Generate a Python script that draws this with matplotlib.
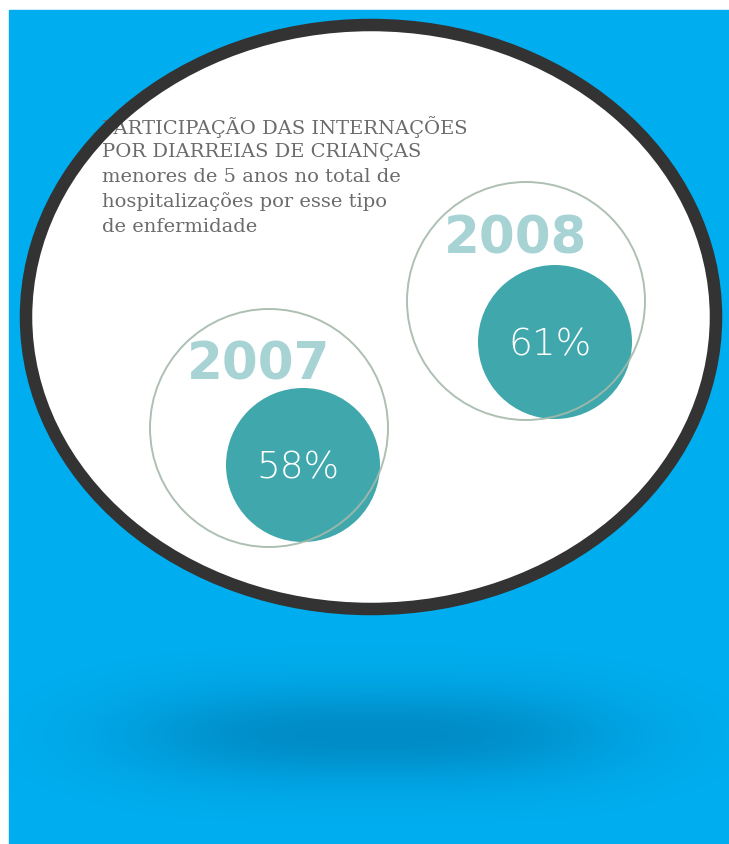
import matplotlib
matplotlib.use("Agg")
import matplotlib.pyplot as plt
import numpy as np
from matplotlib.patches import Ellipse, Circle, Rectangle

# chart content
years = ["2007", "2008"]
shares = [58, 61]
title_lines = [
    "PARTICIPAÇÃO DAS INTERNAÇÕES",
    "POR DIARREIAS DE CRIANÇAS",
    "menores de 5 anos no total de",
    "hospitalizações por esse tipo",
    "de enfermidade",
]

# layout (pixel coordinates, y downwards)
W, H = 729, 844
outer_centers = [(269, 428), (526, 301)]
outer_radius = 119
inner_offset = [(34, 37), (29, 41)]
inner_radius = 77

BLUE = "#00aeef"
TEAL = "#40a8ac"
YEAR_COLOR = "#a7d3d5"
RING_COLOR = "#a4b9aa"
TEXT_GRAY = "#6b6b6b"

figure = plt.figure(figsize=(W / 100, H / 100), dpi=100, facecolor="white")
axe = figure.add_axes([0, 0, 1, 1], xlim=[0, W], ylim=[H, 0], frameon=False)
axe.set_aspect("auto")
axe.axis("off")

# blue background
axe.add_patch(Rectangle((9, 10), W - 9, H - 10, color=BLUE, zorder=0))

# blurred shadow under the balloon
xs = np.linspace(0, W, 400)
ys = np.linspace(600, H, 200)
gx, gy = np.meshgrid(xs, ys)
alpha = 0.38 * np.exp(-np.abs((gx - 372) / 250) ** 3 - ((gy - 735) / 48) ** 2)
shadow = np.zeros(gx.shape + (4,))
shadow[..., 1] = 0.33
shadow[..., 2] = 0.52
shadow[..., 3] = alpha
axe.imshow(shadow, extent=[0, W, H, 600], origin="upper", aspect="auto",
           interpolation="bilinear", zorder=1)

# white balloon
axe.add_patch(Ellipse((371, 317), 690, 584, facecolor="white", edgecolor="none", zorder=2))

# title block
for i, line in enumerate(title_lines):
    axe.text(102, 127 + i * 25, line, family="DejaVu Serif",
             fontsize=14, color=TEXT_GRAY, ha="left", va="center", zorder=3)

# circles per year
for (cx, cy), (ox, oy), year, share in zip(outer_centers, inner_offset, years, shares):
    axe.text(cx - 82, cy - 48, year, family="DejaVu Sans", fontweight="bold",
             fontsize=37, color=YEAR_COLOR, ha="left", va="baseline", zorder=3)
    axe.add_patch(Circle((cx + ox, cy + oy), inner_radius, facecolor=TEAL,
                         edgecolor="none", zorder=4))
    axe.text(cx + ox - 5, cy + oy + 3, f"{share}%", family="DejaVu Sans",
             fontweight="light", fontsize=27, color="white",
             ha="center", va="center", zorder=5)
    axe.add_patch(Circle((cx, cy), outer_radius, facecolor="none",
                         edgecolor=RING_COLOR, linewidth=1.4, alpha=0.9, zorder=6))

# dark rim of the balloon
axe.add_patch(Ellipse((371, 317), 690, 584, facecolor="none", edgecolor="#333333",
                      linewidth=9, zorder=7))

plt.savefig("out.png", dpi=100)
